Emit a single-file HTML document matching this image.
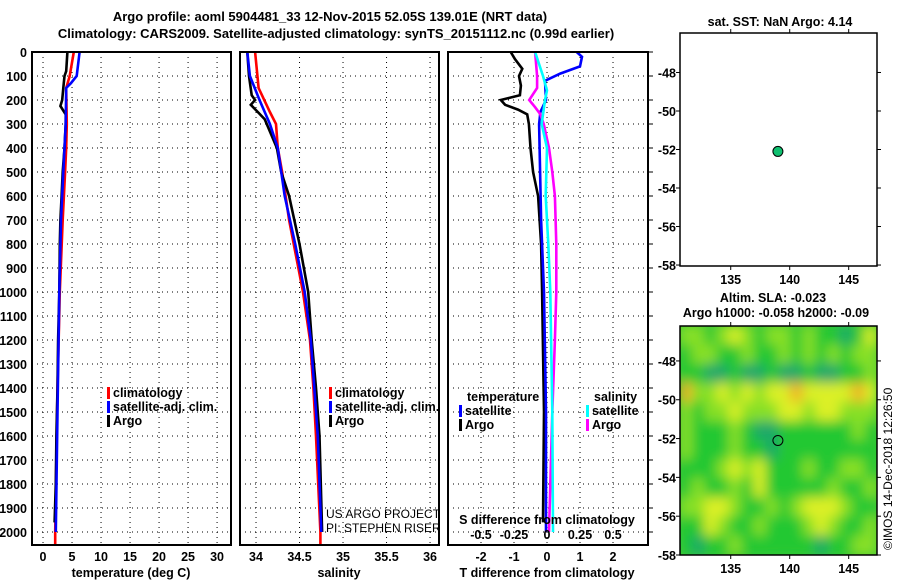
<!DOCTYPE html>
<html><head><meta charset="utf-8"><style>
body{margin:0;background:#fff;}
svg{display:block;font-family:"Liberation Sans",sans-serif;font-weight:bold;}
.t{font-size:13px;}
.s{font-size:12.5px;}
</style></head><body>
<svg id="c" width="900" height="580" viewBox="0 0 900 580">
<text x="330" y="21" text-anchor="middle" class="t">Argo profile: aoml 5904481_33 12-Nov-2015 52.05S 139.01E (NRT data)</text>
<text x="336" y="38" text-anchor="middle" class="t">Climatology: CARS2009. Satellite-adjusted climatology: synTS_20151112.nc (0.99d earlier)</text>
<g id="g"></g>
</svg>
<script>
// ---- profile data (depth in dbar) ----
const tArgoDepth=[0,80,100,150,200,225,260,300,400,500,600,700,800,1000,1200,1400,1600,1800,1960];
const tArgo=[4.2,4.0,3.7,3.5,3.3,3.0,3.9,3.9,3.7,3.4,3.2,3.0,2.9,2.8,2.6,2.5,2.3,2.2,2.0];
const tClimDepth=[0,100,150,300,400,500,700,1000,1400,2000,2054];
const tClim=[5.3,4.6,4.0,4.1,4.0,3.8,3.4,2.9,2.5,2.1,2.1];
const tSatDepth=[0,100,130,150,300,500,700,1000,1500,2000];
const tSat=[6.3,5.8,4.8,4.0,3.9,3.5,3.1,2.8,2.5,2.2];
const sArgoDepth=[0,100,180,200,220,250,280,400,500,600,800,1000,1200,1400,1600,2000];
const sArgo=[33.9,33.92,33.95,33.99,33.94,34.02,34.1,34.24,34.29,34.38,34.5,34.6,34.64,34.69,34.73,34.76];
const sClimDepth=[0,150,250,300,400,500,700,1000,1200,1400,1600,2000,2054];
const sClim=[33.99,34.03,34.16,34.23,34.25,34.3,34.38,34.54,34.62,34.66,34.69,34.74,34.74];
const sSatDepth=[0,100,200,300,400,600,800,1000,1200,1400,1600,2000];
const sSat=[33.9,33.93,34.04,34.16,34.25,34.33,34.45,34.56,34.63,34.67,34.71,34.75];
const dtArgoDepth=[0,30,70,100,140,180,200,220,240,260,300,400,500,600,800,1000,1500,1960];
const dtArgo=[-1.1,-0.97,-0.75,-0.85,-0.79,-0.82,-1.4,-1.27,-0.88,-0.6,-0.55,-0.5,-0.42,-0.27,-0.18,-0.15,-0.09,-0.12];
const dtSatDepth=[0,20,60,90,120,200,250,300,500,700,1000,1500,2000];
const dtSat=[0.9,1.06,1.0,0.4,-0.06,-0.03,-0.2,-0.24,-0.21,-0.18,-0.09,-0.03,-0.03];
const dsSatDepth=[0,100,160,200,300,400,600,800,1000,1500,2000];
const dsSat=[-0.09,-0.03,0.0,-0.015,-0.04,0.0,-0.01,0.01,0.025,0.04,0.045];
const dsArgoDepth=[0,100,150,200,230,260,300,400,500,600,800,1000,1200,1500,2000];
const dsArgo=[-0.09,-0.075,-0.075,-0.135,-0.09,-0.05,-0.025,0.015,0.04,0.06,0.07,0.07,0.06,0.04,0.015];
const depthTicks=[0,100,200,300,400,500,600,700,800,900,1000,1100,1200,1300,1400,1500,1600,1700,1800,1900,2000];
const tempTicks=[0,5,10,15,20,25,30];
const salTicks=[34,34.5,35,35.5,36];
const salTickLabels=["34","34.5","35","35.5","36"];
const dtTicks=[-2,-1,0,1,2];
const dsTickLabels=["-0.5","-0.25","0","0.25","0.5"];
const dsTicks=[-0.5,-0.25,0,0.25,0.5];
// ---- map data ----
const argoLon=139.0, argoLat=-52.1;
const lonTicks=[135,140,145];
const latTicks=[-48,-50,-52,-54,-56,-58];
const slaGrid=[
[2,2,1,2,3,2,1,2,2,1,2,1,1,0,1,3],
[1,2,2,1,1,2,1,1,2,1,2,1,2,1,2,2],
[1,1,0,0,1,0,0,1,0,0,1,0,0,1,1,2],
[4,2,2,3,2,3,2,3,3,4,3,3,3,3,4,3],
[2,1,2,2,3,2,2,2,3,3,2,3,3,2,2,2],
[2,1,1,1,2,1,0,0,1,1,1,1,1,1,2,1],
[2,1,1,1,2,1,1,0,1,1,1,1,1,1,1,1],
[1,1,1,2,3,2,3,1,1,1,2,1,1,2,2,1],
[1,2,1,1,2,1,3,1,1,1,1,1,2,1,1,2],
[2,2,3,3,2,1,1,2,1,2,3,3,3,2,1,1],
[1,1,3,2,1,1,2,1,1,1,2,3,2,1,1,2],
[1,0,1,1,2,1,1,1,1,1,1,0,1,1,2,2]];

const NS="http://www.w3.org/2000/svg";
const G=document.getElementById('g');
function mk(tag,attrs,parent){const e=document.createElementNS(NS,tag);for(const k in attrs)e.setAttribute(k,attrs[k]);(parent||G).appendChild(e);return e;}
function txt(x,y,s,anchor,cls,name,parent){const e=mk('text',{x:x,y:y,'text-anchor':anchor||'start','class':cls||'s'},parent);e.textContent=s;


return e;}
const yTop=52,yBot=545;
const yD=d=>yTop+d*0.24;
function panel(x0,x1,xmin,xmax,name){
 const sx=v=>x0+(v-xmin)/(xmax-xmin)*(x1-x0);
 const g=mk('g',{});
 
 
 mk('rect',{x:x0,y:yTop,width:x1-x0,height:yBot-yTop,fill:'#fff',stroke:'none'},g);
 return {sx,g,x0,x1};
}
function grid(p,xt){
 depthTicks.forEach(d=>{const l=mk('line',{x1:p.x0,x2:p.x1,y1:yD(d),y2:yD(d),stroke:'#000','stroke-width':1,'stroke-dasharray':'1,4'},p.g);
 
 });
 xt.forEach(v=>{const l=mk('line',{x1:p.sx(v),x2:p.sx(v),y1:yTop,y2:yBot,stroke:'#000','stroke-width':1,'stroke-dasharray':'1,4'},p.g);
 
 });
}
function line(p,depths,vals,color,name){
 const pts=depths.map((d,i)=>p.sx(vals[i]).toFixed(1)+','+yD(d).toFixed(1)).join(' ');
 const l=mk('polyline',{points:pts,fill:'none',stroke:color,'stroke-width':2.6,'stroke-linejoin':'miter'},p.g);
 
 
}
function frame(p){const r=mk('rect',{x:p.x0,y:yTop,width:p.x1-p.x0,height:yBot-yTop,fill:'none',stroke:'#000','stroke-width':2},p.g);
 
 }
function legend(x,y,items,parent){items.forEach((it,i)=>{mk('rect',{x:x,y:y+i*14-10,width:3,height:12,fill:it[0]},parent);txt(x+6,y+i*14,it[1],'start','s','legend-entry-'+it[2],parent);});}

// Panel 1 temperature
const p1=panel(32,231,-1.9,32.4,'temperature-panel');
grid(p1,tempTicks);
line(p1,tClimDepth,tClim,'#f00','temp-climatology-line');
line(p1,tArgoDepth,tArgo,'#000','temp-argo-line');
line(p1,tSatDepth,tSat,'#00f','temp-satellite-line');
frame(p1);
depthTicks.forEach(d=>txt(27,yD(d)+5,String(d),'end','s','depth-tick-label',p1.g));
tempTicks.forEach(v=>txt(p1.sx(v),561,String(v),'middle','s','temp-tick-label',p1.g));
txt(131,577,'temperature (deg C)','middle','s','temperature-axis-title',p1.g);
legend(107,397,[['#f00','climatology','climatology'],['#00f','satellite-adj. clim.','satellite'],['#000','Argo','argo']],p1.g);

// Panel 2 salinity
const p2=panel(240,439,33.816,36.103,'salinity-panel');
grid(p2,salTicks);
line(p2,sClimDepth,sClim,'#f00','sal-climatology-line');
line(p2,sArgoDepth,sArgo,'#000','sal-argo-line');
line(p2,sSatDepth,sSat,'#00f','sal-satellite-line');
frame(p2);
salTicks.forEach((v,i)=>txt(p2.sx(v),561,salTickLabels[i],'middle','s','salinity-tick-label',p2.g));
txt(339,577,'salinity','middle','s','salinity-axis-title',p2.g);
legend(329,397,[['#f00','climatology','climatology'],['#00f','satellite-adj. clim.','satellite'],['#000','Argo','argo']],p2.g);
const c1=txt(326,518,'US ARGO PROJECT','start','s','project-credit',p2.g);c1.setAttribute('style','font-weight:normal;font-size:12px');
const c2=txt(326,532,'PI: STEPHEN RISER','start','s','pi-credit',p2.g);c2.setAttribute('style','font-weight:normal;font-size:12px');

// Panel 3 differences
const p3=panel(448,648,-3,3.06,'difference-panel');
const sxS=v=>p3.sx(v*4);
grid(p3,dtTicks);
line(p3,dtArgoDepth,dtArgo,'#000','dT-argo-line');
line(p3,dtSatDepth,dtSat,'#00f','dT-satellite-line');
const pS={sx:v=>sxS(v),g:p3.g,x0:p3.x0,x1:p3.x1};
line(pS,dsArgoDepth,dsArgo,'#f0f','dS-argo-line');
line(pS,dsSatDepth,dsSat,'#0ff','dS-satellite-line');
frame(p3);
depthTicks.forEach(d=>mk('line',{x1:648,x2:653,y1:yD(d),y2:yD(d),stroke:'#000','stroke-width':1},p3.g));
dtTicks.forEach(v=>txt(p3.sx(v),561,String(v),'middle','s','dT-tick-label',p3.g));
dsTicks.forEach((v,i)=>txt(sxS(v),539,dsTickLabels[i],'middle','s','dS-tick-label',p3.g));
txt(547,577,'T difference from climatology','middle','s','dT-axis-title',p3.g);
txt(547,524,'S difference from climatology','middle','s','dS-axis-title',p3.g);
txt(467,401,'temperature','start','s','legend-temperature-heading',p3.g);
legend(459,415,[['#00f','satellite','dT-satellite'],['#000','Argo','dT-argo']],p3.g);
txt(594,401,'salinity','start','s','legend-salinity-heading',p3.g);
legend(586,415,[['#0ff','satellite','dS-satellite'],['#f0f','Argo','dS-argo']],p3.g);

// Maps
const lonMin=130.7,lonMax=147.4,mx0=680,mx1=877;
const mxs=v=>mx0+(v-lonMin)/(lonMax-lonMin)*(mx1-mx0);
function mapAxes(y0,y1,latTop,latBot,name){
 const g=mk('g',{});
 
 
 const ys=v=>y0+(latTop-v)/(latTop-latBot)*(y1-y0);
 return {g,ys,y0,y1};
}
function mapFrame(m){
 const r=mk('rect',{x:mx0,y:m.y0,width:mx1-mx0,height:m.y1-m.y0,fill:'none',stroke:'#000','stroke-width':1.5},m.g);
 
 
 latTicks.forEach(v=>{const y=m.ys(v);mk('line',{x1:mx0-4,x2:mx0,y1:y,y2:y,stroke:'#000'},m.g);mk('line',{x1:mx1,x2:mx1+4,y1:y,y2:y,stroke:'#000'},m.g);txt(mx0-4,y+5,String(v),'end','s','map-lat-label',m.g);});
 lonTicks.forEach(v=>{const x=mxs(v);mk('line',{x1:x,x2:x,y1:m.y0-4,y2:m.y0,stroke:'#000'},m.g);mk('line',{x1:x,x2:x,y1:m.y1,y2:m.y1+4,stroke:'#000'},m.g);txt(x,m.y1+18,String(v),'middle','s','map-lon-label',m.g);});
}
// SST map
const m1=mapAxes(33,266,-45.95,-58.05,'sst-map');
mk('rect',{x:mx0,y:33,width:mx1-mx0,height:233,fill:'#fff'},m1.g);
const dot=mk('circle',{cx:mxs(argoLon),cy:m1.ys(argoLat),r:5,fill:'#10c070',stroke:'#000','stroke-width':1},m1.g);


mapFrame(m1);
txt(780,26,'sat. SST: NaN Argo: 4.14','middle','s','sst-map-title',m1.g);
// SLA map
const m2=mapAxes(326,555,-46.2,-58,'sla-map');
const defs=mk('defs',{},m2.g);
const clip=mk('clipPath',{id:'mc'},defs);mk('rect',{x:mx0,y:326,width:mx1-mx0,height:229},clip);
const flt=mk('filter',{id:'bl',x:'-10%',y:'-10%',width:'120%',height:'120%'},defs);mk('feGaussianBlur',{stdDeviation:6},flt);
const cols=['#1aa86a','#22c832','#88e028','#dcf028','#f0b028'];
const hg=mk('g',{'clip-path':'url(#mc)'},m2.g);
mk('rect',{x:mx0,y:326,width:mx1-mx0,height:229,fill:'#40c838'},hg);
const hb=mk('g',{filter:'url(#bl)'},hg);
const nr=slaGrid.length,nc=slaGrid[0].length;
const cw=(mx1-mx0)/nc,ch=(555-326)/nr;
slaGrid.forEach((row,i)=>row.forEach((v,j)=>{
 const r=mk('rect',{x:mx0+j*cw-0.5,y:326+i*ch-0.5,width:cw+1,height:ch+1,fill:cols[v]},hb);
 
 
}));
const dot2=mk('circle',{cx:mxs(argoLon),cy:m2.ys(argoLat),r:5,fill:'none',stroke:'#000','stroke-width':1},m2.g);


mapFrame(m2);
txt(773,302,'Altim. SLA: -0.023','middle','s','sla-map-title',m2.g);
txt(776,317,'Argo h1000: -0.058 h2000: -0.09','middle','s','sla-map-subtitle',m2.g);
const im=txt(0,0,'©IMOS 14-Dec-2018 12:26:50','start','s','imos-timestamp',G);
im.setAttribute('transform','translate(892,550) rotate(-90)');
im.setAttribute('style','font-weight:normal;font-size:12px');
</script>
</body></html>
